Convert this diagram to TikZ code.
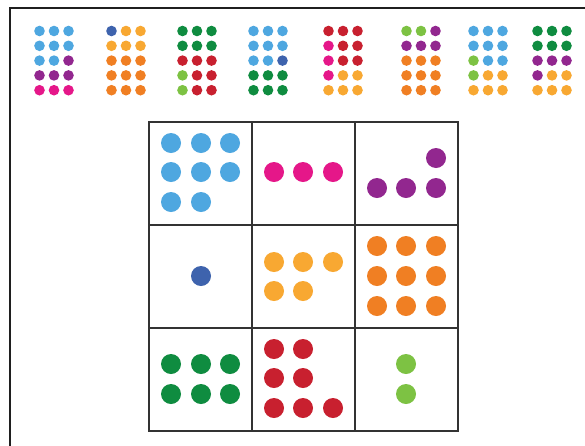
\documentclass[tikz,border=0pt]{standalone}
\definecolor{cB}{RGB}{78,167,224}
\definecolor{cM}{RGB}{229,23,137}
\definecolor{cP}{RGB}{146,39,143}
\definecolor{cN}{RGB}{62,99,173}
\definecolor{cY}{RGB}{248,168,50}
\definecolor{cO}{RGB}{240,127,35}
\definecolor{cG}{RGB}{15,140,64}
\definecolor{cR}{RGB}{200,32,47}
\definecolor{cL}{RGB}{125,194,67}
\tikzset{
  sdot/.style={circle,inner sep=0pt,minimum size=10.6pt},
  bdot/.style={circle,inner sep=0pt,minimum size=20pt},
  cell/.style={draw=black!80,line width=1.2pt,minimum size=103pt,inner sep=0pt},
  frameline/.style={draw=black!88,line width=2.5pt}
}
\newcommand{\dotgroup}[3]{%
  \foreach \c [count=\i from 0] in {#3} {
    \pgfmathtruncatemacro\rr{int(\i/3)}
    \pgfmathtruncatemacro\cc{mod(\i,3)}
    \node[sdot,fill=c\c] (#1-\i) at ({#2+(\cc-1)*14.5},{31+\rr*14.8}) {};
  }%
}
\newcommand{\bigdots}[3]{%
  \foreach \p [count=\i] in {#3} {
    \node[bdot,fill=#2] (#1-\i) at \p {};
  }%
}
\begin{document}
\begin{tikzpicture}[x=1pt,y=-1pt]
\useasboundingbox[fill=white] (0,0) rectangle (585,445);
\coordinate (fa) at (10,450);
\coordinate (fb) at (10,8);
\coordinate (fc) at (590,8);
\draw[frameline] (fa) -- (fb) -- (fc);
% top groups
\dotgroup{g1}{54}{B,B,B,B,B,B,B,B,P,P,P,P,M,M,M}
\dotgroup{g2}{126}{N,Y,Y,Y,Y,Y,O,O,O,O,O,O,O,O,O}
\dotgroup{g3}{197}{G,G,G,G,G,G,R,R,R,L,R,R,L,R,R}
\dotgroup{g4}{268}{B,B,B,B,B,B,B,B,N,G,G,G,G,G,G}
\dotgroup{g5}{343}{R,R,R,M,R,R,M,R,R,M,Y,Y,Y,Y,Y}
\dotgroup{g6}{421}{L,L,P,P,P,P,O,O,O,O,O,O,O,O,O}
\dotgroup{g7}{488}{B,B,B,B,B,B,L,B,B,L,Y,Y,Y,Y,Y}
\dotgroup{g8}{552}{G,G,G,G,G,G,P,P,P,P,Y,Y,Y,Y,Y}
% grid cells
\foreach \r/\y in {1/173.5,2/276.5,3/379.5}{
  \foreach \k/\x in {1/200.5,2/303.5,3/406.5}{
    \node[cell] (c\r\k) at (\x,\y) {};
  }
}
% big dots
\bigdots{b11}{cB}{(171,143),(201,143),(230,143),(171,172),(201,172),(230,172),(171,202),(201,202)}
\bigdots{b12}{cM}{(274,172),(303,172),(333,172)}
\bigdots{b13}{cP}{(436,158),(377,188),(406,188),(436,188)}
\bigdots{b21}{cN}{(201,276)}
\bigdots{b22}{cY}{(274,262),(303,262),(333,262),(274,291),(303,291)}
\bigdots{b23}{cO}{(377,246),(406,246),(436,246),(377,276),(406,276),(436,276),(377,306),(406,306),(436,306)}
\bigdots{b31}{cG}{(171,364),(201,364),(230,364),(171,394),(201,394),(230,394)}
\bigdots{b32}{cR}{(274,349),(303,349),(274,378),(303,378),(274,408),(303,408),(333,408)}
\bigdots{b33}{cL}{(406,364),(406,394)}
\end{tikzpicture}
\end{document}
